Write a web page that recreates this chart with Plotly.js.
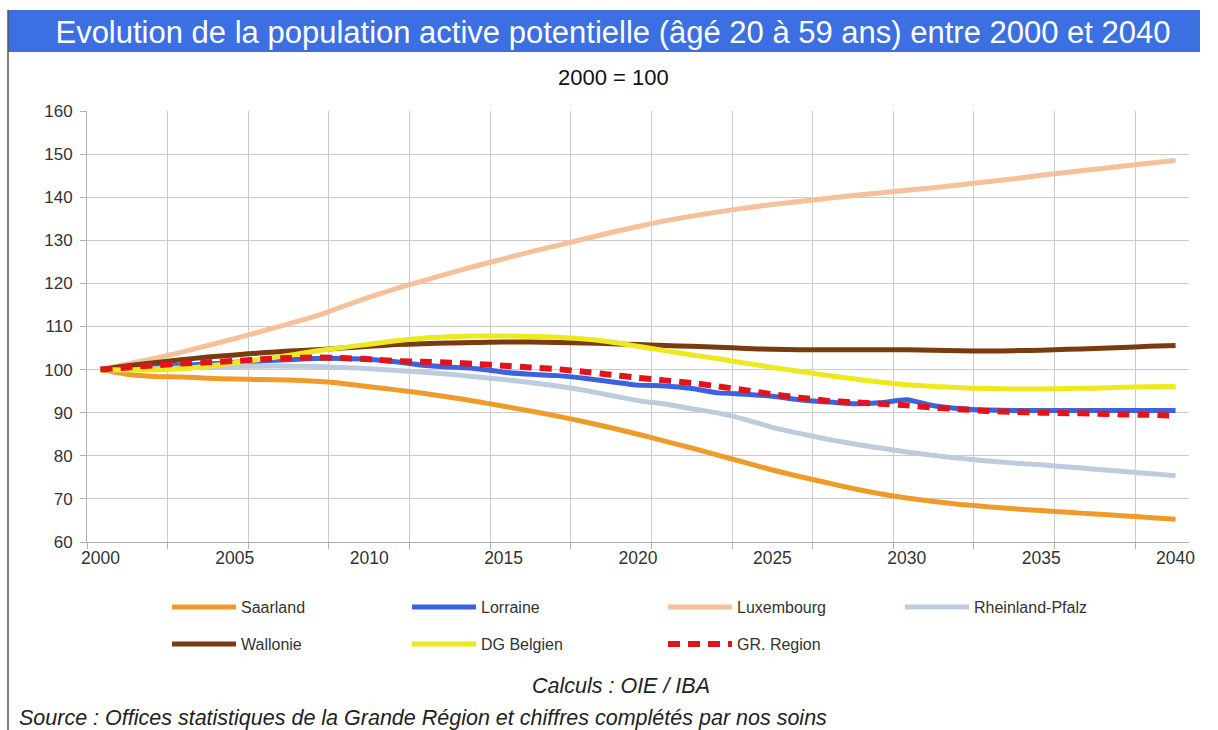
<!DOCTYPE html>
<html>
<head>
<meta charset="utf-8">
<script src="https://cdn.plot.ly/plotly-3.0.1.min.js"></script>
<style>
html,body{margin:0;padding:0;background:#fff;}
#chart{width:1218px;height:730px;}
</style>
</head>
<body>
<div id="chart"></div>
<script>
// Categories (years)
const years = [2000,2001,2002,2003,2004,2005,2006,2007,2008,2009,2010,2011,2012,2013,2014,2015,2016,2017,2018,2019,2020,
               2021,2022,2023,2024,2025,2026,2027,2028,2029,2030,2031,2032,2033,2034,2035,2036,2037,2038,2039,2040];
const xTickLabels = ["2000","2005","2010","2015","2020","2025","2030","2035","2040"];
const xTickVals = [2000,2005,2010,2015,2020,2025,2030,2035,2040];

// Series (index 2000 = 100)
const saarland = [100,98.9,98.4,98.3,98.0,97.8,97.7,97.6,97.3,96.8,96.0,95.3,94.5,93.6,92.6,91.5,90.4,89.2,87.9,86.5,85.0,
                  83.4,81.8,80.1,78.4,76.7,75.2,73.8,72.4,71.2,70.2,69.4,68.7,68.2,67.7,67.3,66.9,66.5,66.1,65.7,65.3];
const lorraine = [100,100.3,100.7,101.0,101.3,101.7,102.0,102.3,102.6,102.6,102.4,101.8,101.0,100.6,100.2,99.4,98.9,98.6,98.0,97.2,96.4,
                  96.2,95.6,94.6,94.3,93.8,93.0,92.5,92.1,92.3,93.0,91.6,90.9,90.6,90.5,90.5,90.5,90.5,90.5,90.5,90.5];
const luxembourg = [100,101.3,102.6,104.0,105.6,107.2,108.9,110.6,112.4,114.6,116.8,118.8,120.6,122.4,124.1,125.7,127.3,128.8,130.3,131.8,133.2,
                    134.5,135.6,136.6,137.5,138.3,139.0,139.7,140.4,141.0,141.6,142.2,142.9,143.6,144.3,145.1,145.8,146.5,147.2,147.9,148.5];
const rheinlandPfalz = [100,100.0,100.2,100.4,100.6,100.7,100.8,100.8,100.7,100.5,100.2,99.8,99.4,98.9,98.3,97.7,97.0,96.2,95.2,94.0,92.8,
                        92.0,90.9,89.9,88.4,86.6,85.2,83.9,82.8,81.8,80.9,80.1,79.4,78.8,78.3,77.9,77.4,76.9,76.4,75.9,75.4];
const wallonie = [100,100.9,101.6,102.3,102.9,103.4,103.9,104.3,104.6,105.0,105.4,105.8,106.0,106.2,106.3,106.4,106.4,106.3,106.2,106.0,105.8,
                  105.6,105.4,105.2,104.9,104.7,104.6,104.6,104.6,104.6,104.6,104.5,104.4,104.3,104.4,104.5,104.7,104.9,105.1,105.4,105.6];
const dgBelgien = [100,99.9,99.9,100.2,100.8,101.6,102.4,103.3,104.3,105.1,105.9,106.7,107.3,107.6,107.8,107.8,107.7,107.5,107.1,106.4,105.4,
                   104.4,103.4,102.5,101.5,100.5,99.6,98.7,97.9,97.1,96.5,96.1,95.8,95.6,95.5,95.5,95.6,95.7,95.9,96.0,96.1];
const grRegion = [100,100.5,101.0,101.4,101.7,102.0,102.4,102.7,102.8,102.7,102.4,102.0,101.8,101.6,101.3,100.9,100.5,100.1,99.5,98.8,98.1,
                  97.5,96.9,96.1,95.2,94.3,93.5,92.8,92.4,92.1,91.7,91.2,90.8,90.4,90.2,90.0,89.9,89.8,89.6,89.5,89.3];

const seriesNames = ["Saarland","Lorraine","Luxembourg","Rheinland-Pfalz","Wallonie","DG Belgien","GR. Region"];
const yTickVals = [60,70,80,90,100,110,120,130,140,150,160];

const FONT = "Liberation Sans, Arial, sans-serif";

function mk(name, y, color, legendId, dash, width) {
  return {
    type: 'scatter', mode: 'lines', name: name, x: years, y: y,
    line: {color: color, width: width || 5, dash: dash || 'solid', shape: 'spline', smoothing: 0.5},
    legend: legendId, hoverinfo: 'x+y+name'
  };
}

const traces = [
  mk(seriesNames[0], saarland, '#ef9b2a', 'legend'),
  mk(seriesNames[1], lorraine, '#3c62de', 'legend2'),
  mk(seriesNames[2], luxembourg, '#f5c09a', 'legend3'),
  mk(seriesNames[3], rheinlandPfalz, '#bccbde', 'legend4'),
  mk(seriesNames[4], wallonie, '#7a3b10', 'legend5'),
  mk(seriesNames[5], dgBelgien, '#eee81e', 'legend6'),
  mk(seriesNames[6], grRegion, '#e0141a', 'legend7', '12px,8px', 6)
];

function leg(xpx, ypx) {
  return {
    x: xpx/1218, y: 1 - ypx/730, xref: 'container', yref: 'container',
    xanchor: 'left', yanchor: 'middle', orientation: 'h',
    bgcolor: 'rgba(0,0,0,0)', borderwidth: 0, itemwidth: 64,
    font: {family: FONT, size: 16, color: '#333'}
  };
}

const W = 1218, H = 730;
const PW = W - 87 - 29, PH = H - 111 - 188;
const layout = {
  width: W, height: H,
  paper_bgcolor: '#fff', plot_bgcolor: '#fff',
  margin: {l: 87, r: 29, t: 111, b: 188},
  showlegend: true,
  font: {family: FONT, size: 16, color: '#333'},
  title: {
    text: "Evolution de la population active potentielle (âgé 20 à 59 ans) entre 2000 et 2040",
    font: {family: FONT, size: 31, color: '#ffffff'},
    x: 613/W, xref: 'container', xanchor: 'center',
    y: 1 - 32/H, yref: 'container', yanchor: 'middle'
  },
  xaxis: {
    range: [1999.5, 2040.5],
    tickmode: 'array', tickvals: xTickVals, ticktext: xTickLabels,
    showgrid: false, zeroline: false, ticks: '',
    showline: true, linecolor: '#b0b0b0', linewidth: 1,
    tickfont: {family: FONT, size: 17.5, color: '#333'},
    minor: {tick0: 1999.5, dtick: 3, showgrid: true, gridcolor: '#cccccc', gridwidth: 1,
            ticks: 'outside', ticklen: 6, tickcolor: '#b0b0b0'},
    fixedrange: true
  },
  yaxis: {
    range: [60, 160], tickmode: 'array', tickvals: yTickVals,
    showgrid: true, gridcolor: '#cccccc', gridwidth: 1, zeroline: false,
    showline: true, linecolor: '#b0b0b0', linewidth: 1,
    ticks: 'outside', ticklen: 6, tickcolor: '#b0b0b0', ticklabelstandoff: 4,
    tickfont: {family: FONT, size: 17, color: '#333'},
    fixedrange: true
  },
  legend: leg(167, 607),
  legend2: leg(407, 607),
  legend3: leg(663, 607),
  legend4: leg(900, 607),
  legend5: leg(167, 644),
  legend6: leg(407, 644),
  legend7: leg(663, 644),
  shapes: [
    {type: 'rect', xref: 'paper', yref: 'paper', layer: 'below',
     x0: (8-87)/PW, x1: (1200-87)/PW,
     y0: 1 + (111-52)/PH, y1: 1 + (111-10)/PH,
     fillcolor: '#3b6fe2', line: {width: 0}},
    {type: 'line', xref: 'paper', yref: 'paper', layer: 'below',
     x0: (8-87)/PW, x1: (8-87)/PW,
     y0: -(188)/PH, y1: 1 + (111-10)/PH,
     line: {color: '#555', width: 1.5}}
  ],
  annotations: [
    {text: "2000 = 100", xref: 'paper', yref: 'paper', showarrow: false,
     x: (613-87)/PW, y: 1 + (111-77)/PH, xanchor: 'center', yanchor: 'middle',
     font: {family: FONT, size: 22, color: '#111'}},
    {text: "<i>Calculs : OIE / IBA</i>", xref: 'paper', yref: 'paper', showarrow: false,
     x: (621-87)/PW, y: -(686-(H-188))/PH, xanchor: 'center', yanchor: 'middle',
     font: {family: FONT, size: 21.5, color: '#222'}},
    {text: "<i>Source : Offices statistiques de la Grande Région et chiffres complétés par nos soins</i>", xref: 'paper', yref: 'paper', showarrow: false,
     x: (17-87)/PW, y: -(718-(H-188))/PH, xanchor: 'left', yanchor: 'middle',
     font: {family: FONT, size: 21.5, color: '#222'}}
  ]
};

Plotly.newPlot('chart', traces, layout, {displayModeBar: false, staticPlot: true});
</script>
</body>
</html>
